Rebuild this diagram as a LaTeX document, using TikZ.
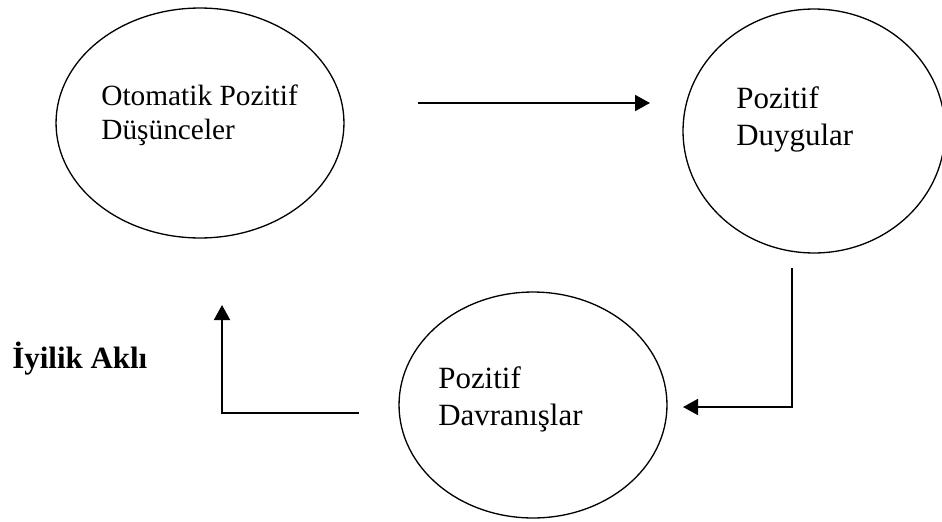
\documentclass[tikz,border=0pt]{standalone}
\usepackage{fontspec}
\setmainfont{Liberation Serif}
\usepackage{tikz}
\usetikzlibrary{arrows.meta,calc,positioning,shapes.geometric}

\tikzset{
  oval/.style={draw,ellipse,line width=0.75pt,inner sep=0pt},
  yazi/.style={anchor=base west,align=left,inner sep=0pt,font=\fontsize{17.6}{21}\selectfont},
  ok/.style={line width=1.05pt,-{Triangle[length=0.3cm,width=0.32cm]}}
}

\begin{document}
\begin{tikzpicture}[x=0.02cm,y=-0.02cm]
\useasboundingbox (0,0) rectangle (942,521);
\node[oval,minimum width=5.76cm,minimum height=4.6cm] (dusunce) at (200,123) {};
\node[oval,minimum width=5.24cm,minimum height=4.88cm] (duygu) at (814,131) {};
\node[oval,minimum width=5.36cm,minimum height=4.52cm] (davranis) at (533,405) {};
% base anchor sits on the last line
\node[yazi,font=\fontsize{16.7}{18.8}\selectfont] (t1) at (101,139) {Otomatik Pozitif\\Düşünceler};
\node[yazi] (t2) at (736,145) {Pozitif\\Duygular};
\node[yazi] (t3) at (438,425) {Pozitif\\Davranışlar};
\node[anchor=base west,inner sep=0pt,font=\fontsize{17.6}{21}\selectfont\bfseries] (akil) at (12,368) {İyilik Aklı};
\coordinate (A1) at (418,103);
\coordinate (A2) at (650,103);
\coordinate (B1) at (792,268);
\coordinate (B2) at (683,407);
\coordinate (C1) at (359,413);
\coordinate (C2) at (222,305);
\draw[ok] (A1) -- (A2);
\draw[ok] (B1) |- (B2);
\draw[ok] (C1) -| (C2);
\end{tikzpicture}
\end{document}
